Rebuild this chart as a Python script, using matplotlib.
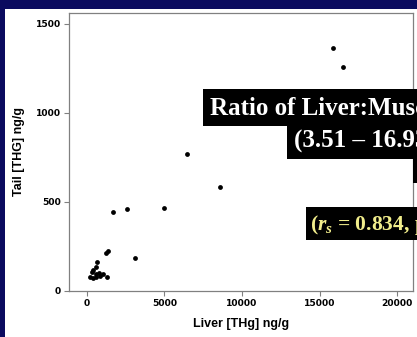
import matplotlib
matplotlib.use("Agg")
import matplotlib.pyplot as plt
from matplotlib.patches import Rectangle

# Liver vs tail total mercury (ng/g)
liver_thg = [15850, 16500, 6430, 8580, 1700, 2600, 4970, 3080, 1230, 1360,
             645, 600, 387, 342, 561, 755, 1032, 174, 387, 600, 819, 1300]
tail_thg = [1361, 1258, 768, 582, 441, 460, 465, 183, 215, 226,
            164, 136, 118, 105, 94, 99, 94, 77, 71, 80, 84, 77]

x_ticks = [0, 5000, 10000, 15000, 20000]
y_ticks = [0, 500, 1000, 1500]

overlay_lines = ["Ratio of Liver:Muscle THg", "(3.51 \u2013 16.93)"]
overlay_stat = r"($r_s$ = 0.834, p < 0.001)"

NAVY = "#0b0b5f"
SPINE = "#808080"

plt.rcParams["mathtext.fontset"] = "custom"
plt.rcParams["mathtext.it"] = "Liberation Serif:bold:italic"
plt.rcParams["mathtext.rm"] = "Liberation Serif:bold"

W, H = 417, 337
fig = plt.figure(figsize=(W / 100, H / 100), dpi=100, facecolor=NAVY)


def fx(px):
    return px / W


def fy(py):
    return 1 - py / H


# white slide panel
fig.patches.append(Rectangle((fx(5), 0), 1 - fx(5), fy(9), transform=fig.transFigure,
                             facecolor="white", edgecolor="none", zorder=-1))

ax = fig.add_axes([fx(69), fy(291), fx(413) - fx(69), fy(13) - fy(291)])
ax.set_zorder(1)
ax.set_facecolor("white")
ax.scatter(liver_thg, tail_thg, s=12, color="black", linewidths=0, zorder=3)

ax.set_xlim(-1160, 21030)
ax.set_ylim(0, 1560)
ax.set_xticks(x_ticks)
ax.set_yticks(y_ticks)
for sp in ax.spines.values():
    sp.set_color(SPINE)
    sp.set_linewidth(0.9)
ax.tick_params(direction="out", length=3.6, width=0.8, color=SPINE, pad=2)
for lab in ax.get_xticklabels() + ax.get_yticklabels():
    lab.set_fontfamily("DejaVu Sans")
    lab.set_fontweight("bold")
    lab.set_fontsize(6.6)

ax.set_xlabel("Liver [THg] ng/g", family="Liberation Sans", weight="bold",
              fontsize=9, labelpad=7)
ax.set_ylabel("Tail [THG] ng/g", family="Liberation Sans", weight="bold",
              fontsize=9, labelpad=8)

# black highlight boxes behind the overlay text
boxes = [(203, 89, 230, 37), (287, 120, 150, 39), (413, 159, 20, 24), (306, 207, 130, 33)]
for x0, y0, w, h in boxes:
    fig.patches.append(Rectangle((fx(x0), fy(y0 + h)), fx(w), h / H,
                                 transform=fig.transFigure, facecolor="black",
                                 edgecolor="none", zorder=5))

fig.text(fx(210), fy(115), overlay_lines[0], family="Liberation Serif",
         weight="bold", fontsize=18, color="white", va="baseline", zorder=6)
fig.text(fx(294), fy(148), overlay_lines[1], family="Liberation Serif",
         weight="bold", fontsize=18, color="white", va="baseline", zorder=6)
fig.text(fx(310), fy(230), overlay_stat, family="Liberation Serif",
         weight="bold", fontsize=15.5, color="#f2ee8c", va="baseline", zorder=6)

fig.savefig("out.png", dpi=100, facecolor=NAVY)
